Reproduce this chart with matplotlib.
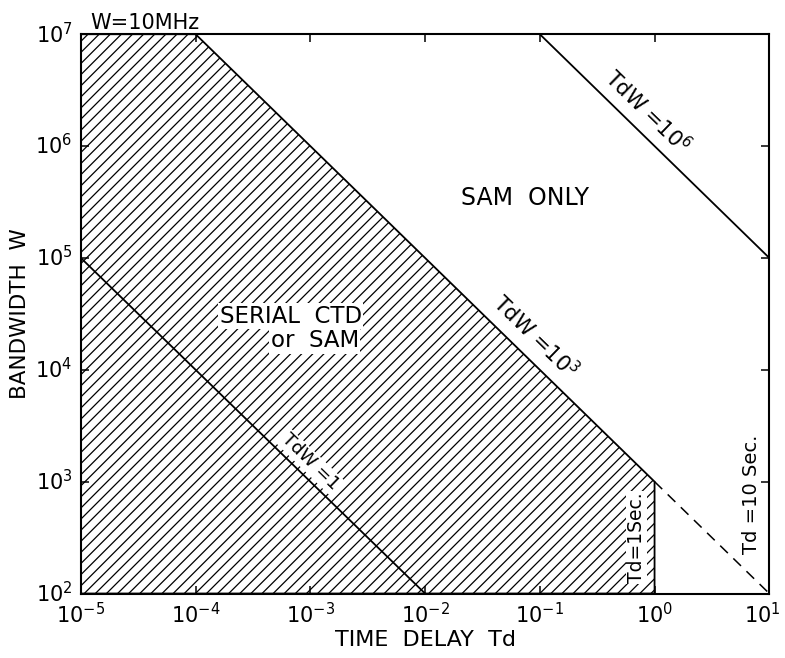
import matplotlib.pyplot as plt
import matplotlib.transforms as mtransforms
import numpy as np

plt.rcParams['font.family'] = ['DejaVu Sans']
plt.rcParams['hatch.linewidth'] = 0.9

# decades shown on the axes
td_ticks = [1e-5, 1e-4, 1e-3, 1e-2, 1e-1, 1e0, 1e1]
w_ticks = [1e2, 1e3, 1e4, 1e5, 1e6, 1e7]
td_tick_labels = ['$10^{-5}$', '$10^{-4}$', '$10^{-3}$', '$10^{-2}$',
                  '$10^{-1}$', '$10^{0}$', '$10^{1}$']
w_tick_labels = ['$10^{2}$', '$10^{3}$', '$10^{4}$', '$10^{5}$', '$10^{6}$', '$10^{7}$']

# shaded region: serial CTD or SAM
region_td = [1e-5, 1e-5, 1e-4, 1e0, 1e0]
region_w = [1e2, 1e7, 1e7, 1e3, 1e2]

# TdW = const lines
tdw1_td = [1e-5, 1e-2]
tdw1_w = [1e5, 1e2]
tdw6_td = [1e-1, 1e1]
tdw6_w = [1e7, 1e5]
dashed_td = [1e0, 1e1]
dashed_w = [1e3, 1e2]

fig = plt.figure(figsize=(7.85, 6.58), dpi=100)
ax = fig.add_axes([0.103, 0.098, 0.877, 0.85])
ax.set_xscale('log')
ax.set_yscale('log')
ax.set_xlim(1e-5, 1e1)
ax.set_ylim(1e2, 1e7)

ax.fill(region_td, region_w, facecolor='white', edgecolor='black',
        hatch='///', linewidth=1.3, zorder=1)
ax.plot(tdw1_td, tdw1_w, color='black', lw=1.3, zorder=2)
ax.plot(tdw6_td, tdw6_w, color='black', lw=1.3, zorder=2)
ax.plot(dashed_td, dashed_w, color='black', lw=1.1, ls=(0, (7, 5)), zorder=2)

# angle of a slope -1 line on screen
p0 = ax.transData.transform((1e-5, 1e7))
p1 = ax.transData.transform((1e1, 1e1))
ang = np.degrees(np.arctan2(p1[1] - p0[1], p1[0] - p0[0]))

box = dict(facecolor='white', edgecolor='none', pad=1)
ax.text(1e-3, 1.5e3, 'TdW =1', rotation=ang, ha='center', va='center',
        fontsize=13, bbox=box, zorder=3)
ax.text(10**-1.04, 10**4.30, 'TdW =10$^3$', rotation=ang, ha='center', va='center',
        fontsize=15, bbox=box, zorder=3)
ax.text(10**-0.06, 10**6.31, 'TdW =10$^6$', rotation=ang, ha='center', va='center',
        fontsize=15, zorder=3)

ax.text(10**-1.13, 10**5.54, 'SAM  ONLY', ha='center', va='center', fontsize=17)
ax.text(10**-3.17, 10**4.48, 'SERIAL  CTD', ha='center', va='center',
        fontsize=16.5, bbox=box, zorder=3)
ax.text(10**-2.96, 10**4.26, 'or  SAM', ha='center', va='center',
        fontsize=16.5, bbox=box, zorder=3)

ax.text(10**-0.157, 10**2.5, 'Td=1Sec.', rotation=90, ha='center', va='center',
        fontsize=13.5, bbox=box, zorder=3)
ax.text(10**0.845, 10**2.89, 'Td =10 Sec.', rotation=90, ha='center', va='center',
        fontsize=14, zorder=3)

trans = mtransforms.blended_transform_factory(ax.transData, ax.transAxes)
ax.text(10**-4.44, 1.003, 'W=10MHz', transform=trans, ha='center', va='bottom',
        fontsize=15)

ax.set_xticks(td_ticks)
ax.set_xticklabels(td_tick_labels)
ax.set_yticks(w_ticks)
ax.set_yticklabels(w_tick_labels)
ax.minorticks_off()
ax.tick_params(direction='in', length=6, width=1.1, labelsize=15,
               top=True, right=True, pad=6)
for s in ax.spines.values():
    s.set_linewidth(1.5)

# y labels sit a little high, as in the original
up = mtransforms.ScaledTranslation(0, 2 / 100, fig.dpi_scale_trans)
for lab in ax.get_yticklabels():
    lab.set_transform(lab.get_transform() + up)
left = mtransforms.ScaledTranslation(-7 / 100, 0, fig.dpi_scale_trans)
last = ax.get_xticklabels()[-1]
last.set_transform(last.get_transform() + left)

ax.set_xlabel('TIME  DELAY  Td', fontsize=16, labelpad=2)
ax.set_ylabel('BANDWIDTH  W', fontsize=15.5, labelpad=4)

fig.savefig('out.png', dpi=100)
